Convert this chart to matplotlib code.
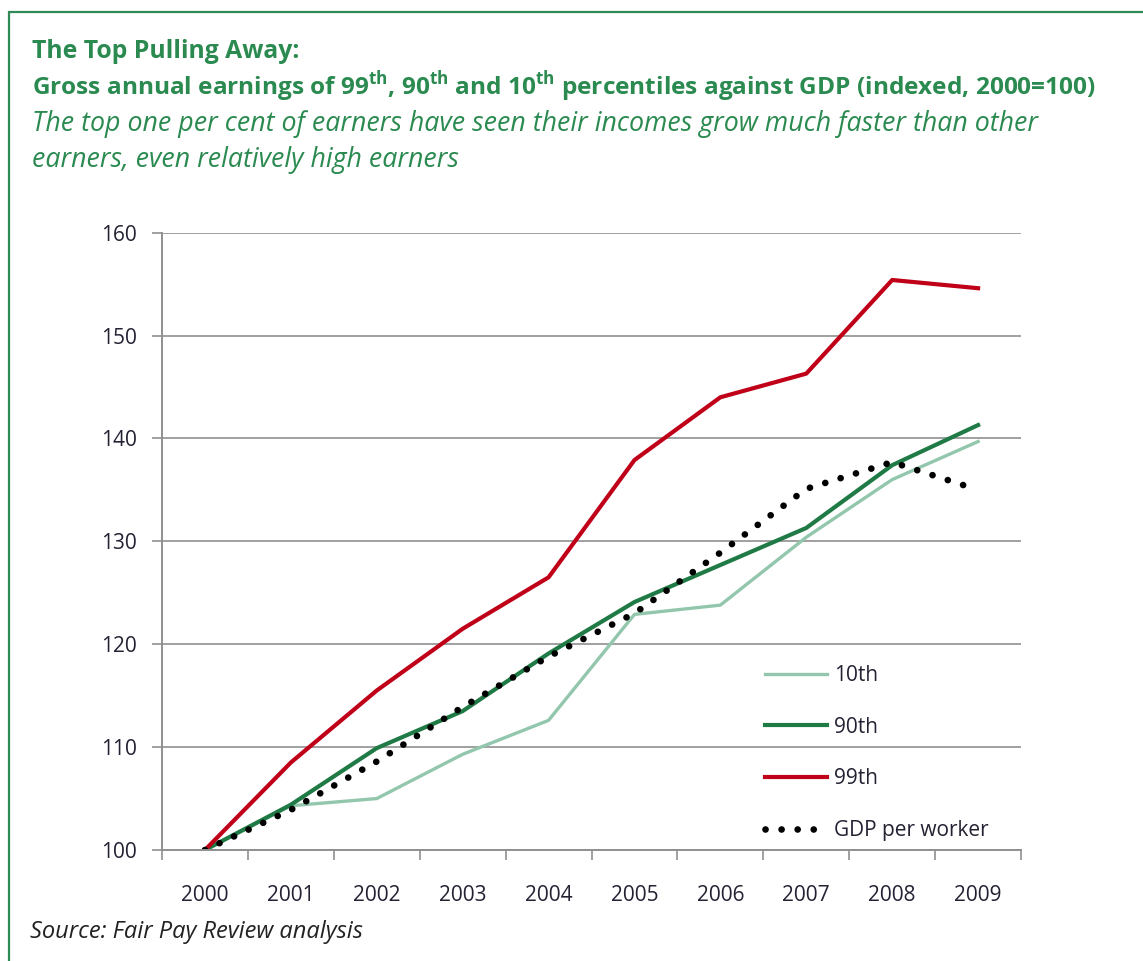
import matplotlib.pyplot as plt
from matplotlib.patches import Rectangle

plt.rcParams['font.family'] = ['Open Sans', 'DejaVu Sans']
plt.rcParams['mathtext.fontset'] = 'custom'
plt.rcParams['mathtext.rm'] = 'Open Sans:bold'

# data (index, 2000=100)
years = ['2000', '2001', '2002', '2003', '2004', '2005', '2006', '2007', '2008', '2009']
p10 = [100, 104.3, 105.0, 109.3, 112.6, 122.9, 123.8, 130.4, 136.0, 139.7]
p90 = [100, 104.4, 109.9, 113.5, 119.1, 124.1, 127.7, 131.3, 137.4, 141.3]
p99 = [100, 108.5, 115.5, 121.5, 126.5, 137.9, 144.0, 146.3, 155.4, 154.6]
gdp = [100, 103.9, 108.6, 113.9, 118.8, 123.0, 128.9, 135.1, 137.7, 135.0]

green_txt = '#2a8a50'
x = list(range(len(years)))

fig = plt.figure(figsize=(11.43, 9.61), dpi=100)
ax = fig.add_axes([0.1417, 0.1155, 0.7516, 0.6424])

ax.plot(x, p10, color='#93c7ad', lw=2.4, label='10th')
ax.plot(x, p90, color='#1f7a45', lw=3.0, label='90th')
ax.plot(x, p99, color='#c00018', lw=3.0, label='99th')
ax.plot(x, gdp, color='black', lw=4.8, linestyle=(0, (0.01, 2.4)),
        dash_capstyle='round', label='GDP per worker')

ax.set_xlim(-0.5, 9.5)
ax.set_ylim(100, 160)
ax.set_yticks([100, 110, 120, 130, 140, 150, 160])
ax.set_xticks(x)
ax.set_xticklabels(years)
ax.set_xticks([i - 0.5 for i in range(11)], minor=True)
ax.tick_params(axis='x', which='major', length=0, pad=25, labelsize=15, labelcolor='#222233')
ax.tick_params(axis='x', which='minor', length=7, width=1.2, color='#909090', direction='out')
ax.tick_params(axis='y', length=7, width=1.2, color='#909090', labelsize=15,
               labelcolor='#222233', pad=11)

ax.grid(axis='y', color='#a0a0a0', lw=1.4)
ax.set_axisbelow(True)
for s in ['top', 'right']:
    ax.spines[s].set_visible(False)
for s in ['left', 'bottom']:
    ax.spines[s].set_color('#909090')
    ax.spines[s].set_linewidth(1.4)

leg = ax.legend(loc='upper left', bbox_to_anchor=(0.692, 0.3135), frameon=False,
                fontsize=15, handlelength=3.0, handletextpad=0.33, labelspacing=1.48,
                borderaxespad=0)
for t in leg.get_texts():
    t.set_color('#222233')

# header text
fig.text(32 / 1143, 1 - 58 / 961, 'The Top Pulling Away:', fontsize=17.8,
         fontweight='bold', color=green_txt, va='baseline')
fig.text(32 / 1143, 1 - 96 / 961,
         r'Gross annual earnings of 99$^{\rm th}$, 90$^{\rm th}$ and 10$^{\rm th}$ '
         r'percentiles against GDP (indexed, 2000=100)',
         fontsize=17.6, fontweight='bold', color=green_txt, va='baseline')
fig.text(32 / 1143, 1 - 131 / 961,
         'The top one per cent of earners have seen their incomes grow much faster than other',
         fontsize=19.3, style='italic', color=green_txt, va='baseline')
fig.text(32 / 1143, 1 - 167 / 961, 'earners, even relatively high earners',
         fontsize=19.3, style='italic', color=green_txt, va='baseline')
fig.text(30 / 1143, 1 - 938 / 961, 'Source: Fair Pay Review analysis',
         fontsize=17, style='italic', color='#222222', va='baseline')

# green frame
fig.patches.append(Rectangle((9 / 1143, -0.05), 1.2, 1 - 12 / 961 + 0.05,
                             transform=fig.transFigure, fill=False,
                             edgecolor='#2f8a55', lw=1.6))

fig.savefig('out.png', dpi=100)
